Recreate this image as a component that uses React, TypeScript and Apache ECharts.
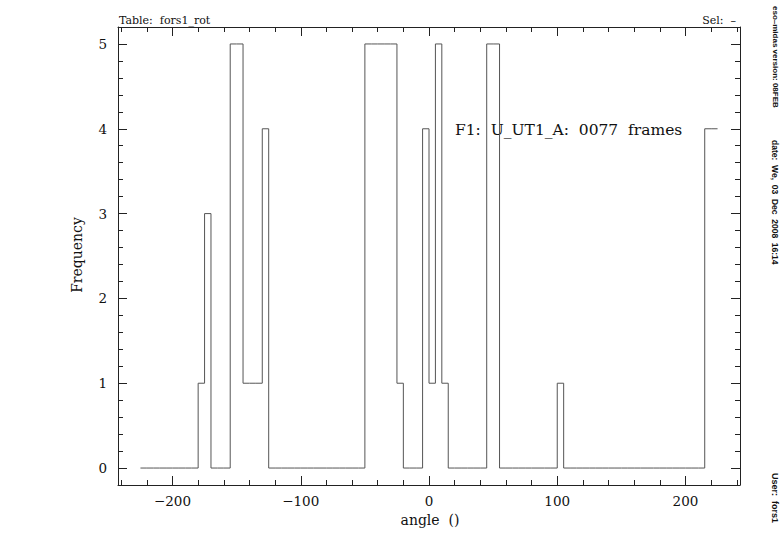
import React, { useEffect, useRef } from "react";
import * as echarts from "echarts";

// Histogram of rotator angle: bins of 5 degrees starting at -225
const binStart = -225;
const binWidth = 5;
const counts = [
  0, 0, 0, 0, 0, 0, 0, 0, 0, // -225 .. -185
  1, 3, // -180, -175
  0, 0, 0, // -170 .. -160
  5, 5, // -155, -150
  1, 1, 1, // -145 .. -135
  4, // -130
  0, 0, 0, 0, 0, 0, 0, 0, 0, 0, 0, 0, 0, 0, 0, // -125 .. -55
  5, 5, 5, 5, 5, // -50 .. -30
  1, // -25
  0, 0, 0, // -20 .. -10
  4, // -5
  1, // 0
  5, // 5
  1, // 10
  0, 0, 0, 0, 0, 0, // 15 .. 40
  5, 5, // 45, 50
  0, 0, 0, 0, 0, 0, 0, 0, 0, // 55 .. 95
  1, // 100
  0, 0, 0, 0, 0, 0, 0, 0, 0, 0, 0, 0, 0, 0, 0, 0, 0, 0, 0, 0, 0, 0, // 105 .. 210
  4, 4, // 215, 220
];

const xMajorTicks = [-200, -100, 0, 100, 200];
const xMinorTicks = [-240, -220, -200, -180, -160, -140, -120, -100, -80, -60, -40, -20, 0, 20, 40, 60, 80, 100, 120, 140, 160, 180, 200, 220, 240];
const yMajorTicks = [0, 1, 2, 3, 4, 5];
const yMinorTicks = [0, 0.2, 0.4, 0.6, 0.8, 1, 1.2, 1.4, 1.6, 1.8, 2, 2.2, 2.4, 2.6, 2.8, 3, 3.2, 3.4, 3.6, 3.8, 4, 4.2, 4.4, 4.6, 4.8, 5];

const xRange = [-242.5, 242.5];
const yRange = [-0.2, 5.2];

const SERIF = "'DejaVu Serif', 'Liberation Serif', serif";
const SANS = "'Liberation Sans', 'DejaVu Sans', sans-serif";
const AXIS_COLOR = "#222";

function fmt(v: number) {
  return v < 0 ? "\u2212" + Math.abs(v) : String(v);
}

export default function App() {
  const ref = useRef<HTMLDivElement>(null);
  useEffect(() => {
    if (!ref.current) return;
    const chart = echarts.init(ref.current, undefined, { renderer: "svg" });

    const pts: [number, number][] = [];
    counts.forEach((c, i) => {
      const lo = binStart + i * binWidth;
      pts.push([lo, c]);
      pts.push([lo + binWidth, c]);
    });

    const baseX = (pos: "top" | "bottom", ticks: number[], len: number, label: boolean, line: boolean) => ({
      type: "value",
      position: pos,
      min: xRange[0],
      max: xRange[1],
      axisLine: { show: line, onZero: false, lineStyle: { color: AXIS_COLOR, width: 1 } },
      axisTick: { show: true, inside: true, length: len, customValues: ticks, lineStyle: { color: AXIS_COLOR, width: 1 } },
      axisLabel: label
        ? { show: true, customValues: ticks, formatter: fmt, margin: 9, color: "#111", fontFamily: SERIF, fontSize: 13.5 }
        : { show: false },
      splitLine: { show: false },
    });
    const baseY = (pos: "left" | "right", ticks: number[], len: number, label: boolean, line: boolean) => ({
      type: "value",
      position: pos,
      min: yRange[0],
      max: yRange[1],
      axisLine: { show: line, onZero: false, lineStyle: { color: AXIS_COLOR, width: 1 } },
      axisTick: { show: true, inside: true, length: len, customValues: ticks, lineStyle: { color: AXIS_COLOR, width: 1 } },
      axisLabel: label
        ? { show: true, customValues: ticks, formatter: fmt, margin: 11, color: "#111", fontFamily: SERIF, fontSize: 13.5 }
        : { show: false },
      splitLine: { show: false },
    });

    chart.setOption({
      animation: false,
      backgroundColor: "#fff",
      grid: { left: 118, right: 42, top: 27, bottom: 57, containLabel: false },
      xAxis: [
        baseX("bottom", xMajorTicks, 9, true, true),
        baseX("bottom", xMinorTicks, 5, false, false),
        baseX("top", xMajorTicks, 9, false, true),
        baseX("top", xMinorTicks, 5, false, false),
      ],
      yAxis: [
        baseY("left", yMajorTicks, 9, true, true),
        baseY("left", yMinorTicks, 5, false, false),
        baseY("right", yMajorTicks, 9, false, true),
        baseY("right", yMinorTicks, 5, false, false),
      ],
      series: [
        {
          type: "line",
          xAxisIndex: 0,
          yAxisIndex: 0,
          data: pts,
          showSymbol: false,
          symbol: "none",
          lineStyle: { color: "#555", width: 1 },
          silent: true,
        },
      ],
      graphic: [
        { type: "text", x: 119, y: 20, style: { text: "Table:  fors1_rot", fontFamily: SERIF, fontSize: 11, fill: "#111", textAlign: "left", textVerticalAlign: "middle" } },
        { type: "text", x: 736, y: 20, style: { text: "Sel:  \u2013", fontFamily: SERIF, fontSize: 11, fill: "#111", textAlign: "right", textVerticalAlign: "middle" } },
        { type: "text", x: 455, y: 130, style: { text: "F1:  U_UT1_A:  0077  frames", fontFamily: SERIF, fontSize: 15.5, fill: "#111", textAlign: "left", textVerticalAlign: "middle" } },
        { type: "text", x: 77, y: 255, rotation: Math.PI / 2, style: { text: "Frequency", fontFamily: SERIF, fontSize: 14, fill: "#111", textAlign: "center", textVerticalAlign: "middle" } },
        { type: "text", x: 430, y: 520, style: { text: "angle  ()", fontFamily: SERIF, fontSize: 14, fill: "#111", textAlign: "center", textVerticalAlign: "middle" } },
        { type: "text", x: 775, y: 6, rotation: -Math.PI / 2, style: { text: "eso\u2013midas version: 08FEB", fontFamily: SANS, fontWeight: "bold", fontSize: 8, fill: "#111", textAlign: "left", textVerticalAlign: "middle" } },
        { type: "text", x: 775, y: 140, rotation: -Math.PI / 2, style: { text: "date:  We,  03  Dec  2008  16:14", fontFamily: SANS, fontWeight: "bold", fontSize: 8.5, fill: "#111", textAlign: "left", textVerticalAlign: "middle" } },
        { type: "text", x: 775, y: 473, rotation: -Math.PI / 2, style: { text: "User:  fors1", fontFamily: SANS, fontWeight: "bold", fontSize: 9, fill: "#111", textAlign: "left", textVerticalAlign: "middle" } },
      ],
    });
    return () => chart.dispose();
  }, []);
  return <div ref={ref} style={{ position: "fixed", left: 0, top: 0, width: 782, height: 542 }} />;
}
